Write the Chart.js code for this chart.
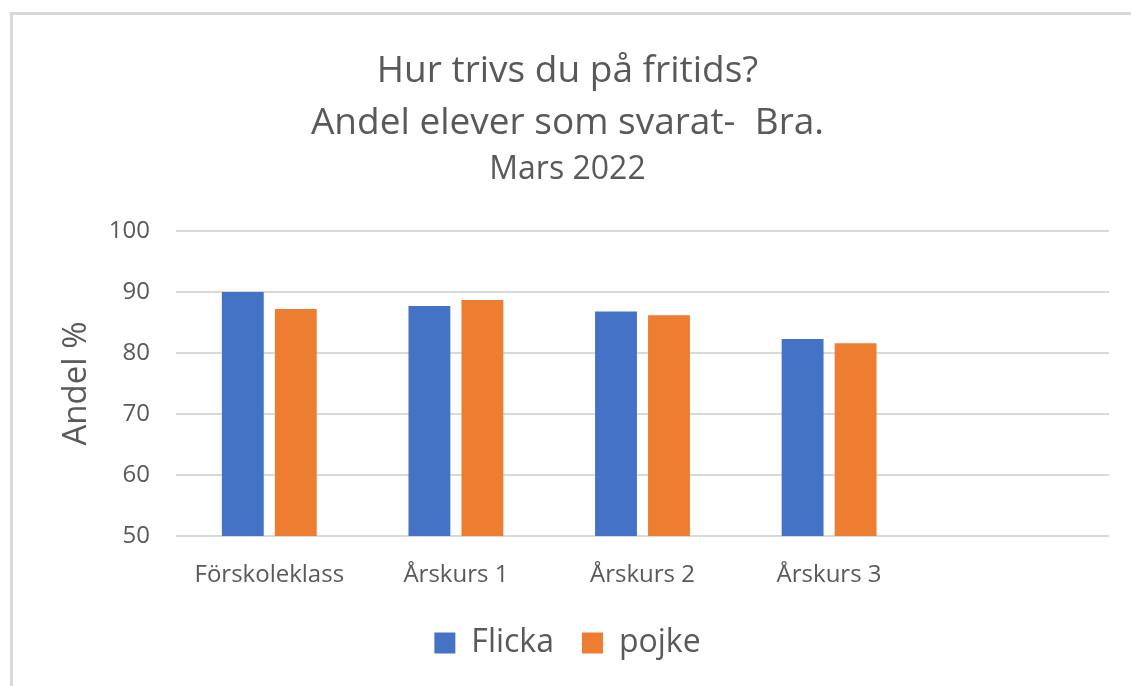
<!DOCTYPE html>
<html>
<head>
<meta charset="utf-8">
<script src="https://cdn.jsdelivr.net/npm/chart.js@4/dist/chart.umd.min.js"></script>
<style>
    body { margin: 0; background: #fff; }
    #wrap { position: relative; width: 1131px; height: 686px; }
    #frame { position: absolute; left: 10px; top: 12px; right: 0; bottom: 0;
             border-top: 3px solid #d9d9d9; border-left: 3px solid #d9d9d9; }
    canvas { position: absolute; left: 0; top: 0; }
</style>
</head>
<body>
<div id="wrap">
    <div id="frame"></div>
    <canvas id="chart" width="1131" height="686"></canvas>
</div>
<script>
// Datos del gráfico
const categorias = ['Förskoleklass', 'Årskurs 1', 'Årskurs 2', 'Årskurs 3', ''];
const flicka = [90.0, 87.7, 86.8, 82.3, null];
const pojke = [87.2, 88.7, 86.2, 81.6, null];
const yTicks = [50, 60, 70, 80, 90, 100];

const gris = '#595959';
const fuente = "'Open Sans', 'Noto Sans', sans-serif";

const ctx = document.getElementById('chart').getContext('2d');

new Chart(ctx, {
    type: 'bar',
    data: {
        labels: categorias,
        datasets: [
            {
                label: 'Flicka',
                data: flicka,
                backgroundColor: '#4472C4',
                categoryPercentage: 0.568,
                barPercentage: 0.79
            },
            {
                label: 'pojke',
                data: pojke,
                backgroundColor: '#ED7D31',
                categoryPercentage: 0.568,
                barPercentage: 0.79
            }
        ]
    },
    options: {
        responsive: false,
        animation: false,
        layout: { padding: { left: 26, right: 22, top: 0, bottom: 17 } },
        plugins: {
            title: {
                display: true,
                text: ['Hur trivs du på fritids?', 'Andel elever som svarat-  Bra.'],
                color: gris,
                font: { family: fuente, size: 37, weight: 'normal', lineHeight: 1.4 },
                padding: { top: 46, bottom: 0 }
            },
            subtitle: {
                display: true,
                text: 'Mars 2022',
                color: gris,
                font: { family: fuente, size: 32, weight: 'normal' },
                padding: { top: 1, bottom: 42 }
            },
            legend: {
                position: 'bottom',
                labels: {
                    color: gris,
                    font: { family: fuente, size: 32 },
                    boxWidth: 21,
                    boxHeight: 21,
                    padding: 28
                }
            },
            tooltip: { enabled: false }
        },
        scales: {
            x: {
                grid: { display: false, drawTicks: false },
                border: { display: false },
                afterFit: (axis) => { axis.height = 63; },
                ticks: {
                    color: gris,
                    font: { family: fuente, size: 24 },
                    padding: 25,
                    maxRotation: 0
                }
            },
            y: {
                min: yTicks[0],
                max: yTicks[yTicks.length - 1],
                afterBuildTicks: (axis) => {
                    axis.ticks = yTicks.map((v) => ({ value: v }));
                },
                afterFit: (axis) => { axis.width = 150; },
                grid: { color: '#d9d9d9', lineWidth: 2, drawTicks: false },
                border: { display: false },
                ticks: {
                    color: gris,
                    font: { family: fuente, size: 24 },
                    padding: 26
                },
                title: {
                    display: true,
                    text: 'Andel %',
                    color: gris,
                    font: { family: fuente, size: 33 },
                    padding: { top: 31, bottom: 0 }
                }
            }
        }
    }
});
</script>
</body>
</html>
